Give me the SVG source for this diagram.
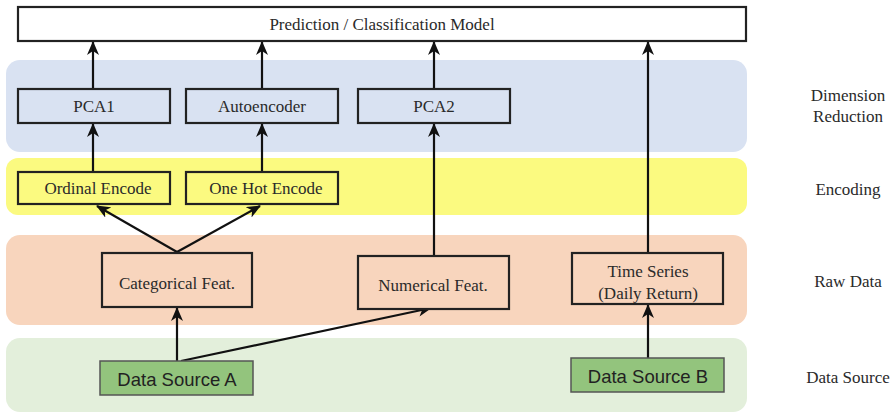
<svg xmlns="http://www.w3.org/2000/svg" width="892" height="413" viewBox="0 0 892 413">
  <style>
    .band { stroke: none; }
    .box { stroke: #222; stroke-width: 2.2; }
    .t { font-family: "Liberation Serif", "Times New Roman", serif; font-size: 17px; fill: #2a2a2a; text-anchor: middle; dominant-baseline: central; }
    .ts { font-family: "Liberation Sans", Arial, sans-serif; font-size: 18.5px; fill: #222; text-anchor: middle; dominant-baseline: central; }
    .lbl { font-family: "Liberation Serif", "Times New Roman", serif; font-size: 17px; fill: #2a2a2a; text-anchor: middle; dominant-baseline: central; }
    .edge { stroke: #111; stroke-width: 2.2; fill: none; marker-end: url(#arrow); }
  </style>
  <defs>
    <marker id="arrow" viewBox="0 0 14 12" refX="13" refY="6" markerWidth="14" markerHeight="12" markerUnits="userSpaceOnUse" orient="auto">
      <path d="M0,0 L14,6 L0,12 L4,6 Z" fill="#111"/>
    </marker>
  </defs>
  <rect width="892" height="413" fill="#ffffff"/>

  <!-- layer bands -->
  <g id="bands">
    <rect class="band" x="6" y="60" width="741" height="92" rx="14" fill="#d9e2f2"/>
    <rect class="band" x="6" y="158" width="741" height="57" rx="12" fill="#fbfa80"/>
    <rect class="band" x="6" y="235" width="741" height="90" rx="14" fill="#f8d5bd"/>
    <rect class="band" x="6" y="338" width="741" height="74" rx="14" fill="#e3efdb"/>
  </g>

  <!-- layer labels -->
  <g id="layer-labels">
    <text class="lbl" x="848" y="95">Dimension</text>
    <text class="lbl" x="848" y="116">Reduction</text>
    <text class="lbl" x="848" y="189">Encoding</text>
    <text class="lbl" x="848" y="281">Raw Data</text>
    <text class="lbl" x="848" y="377">Data Source</text>
  </g>

  <!-- connectors -->
  <g id="connectors">
    <line class="edge" x1="93" y1="89" x2="93" y2="42"/>
    <line class="edge" x1="262" y1="89" x2="262" y2="42"/>
    <line class="edge" x1="434" y1="89" x2="434" y2="42"/>
    <line class="edge" x1="648" y1="253" x2="648" y2="42"/>
    <line class="edge" x1="93" y1="172" x2="93" y2="124"/>
    <line class="edge" x1="262" y1="172" x2="262" y2="124"/>
    <line class="edge" x1="434" y1="256" x2="434" y2="124"/>
    <line class="edge" x1="177" y1="252" x2="97" y2="206"/>
    <line class="edge" x1="177" y1="252" x2="260" y2="206"/>
    <line class="edge" x1="177" y1="361" x2="177" y2="308"/>
    <line class="edge" x1="181" y1="361" x2="431" y2="308"/>
    <line class="edge" x1="648" y1="358" x2="648" y2="305"/>
  </g>

  <g id="model">
    <rect class="box" x="18" y="7" width="728" height="34" fill="#ffffff"/>
    <text class="t" x="382" y="24">Prediction / Classification Model</text>
  </g>

  <g id="pca1">
    <rect class="box" x="18" y="89" width="152" height="34" fill="#d9e2f2"/>
    <text class="t" x="94" y="106">PCA1</text>
  </g>
  <g id="autoencoder">
    <rect class="box" x="186" y="89" width="152" height="34" fill="#d9e2f2"/>
    <text class="t" x="262" y="106">Autoencoder</text>
  </g>
  <g id="pca2">
    <rect class="box" x="358" y="89" width="152" height="34" fill="#d9e2f2"/>
    <text class="t" x="434" y="106">PCA2</text>
  </g>

  <g id="ordinal-encode">
    <rect class="box" x="18" y="172" width="152" height="32" fill="#fbfa80"/>
    <text class="t" x="98" y="188">Ordinal Encode</text>
  </g>
  <g id="one-hot-encode">
    <rect class="box" x="186" y="172" width="152" height="32" fill="#fbfa80"/>
    <text class="t" x="266" y="188">One Hot Encode</text>
  </g>

  <g id="categorical">
    <rect class="box" x="102" y="253" width="150" height="54" fill="#f8d5bd"/>
    <text class="t" x="177" y="283">Categorical Feat.</text>
  </g>
  <g id="numerical">
    <rect class="box" x="358" y="256" width="151" height="53" fill="#f8d5bd"/>
    <text class="t" x="433" y="285">Numerical Feat.</text>
  </g>
  <g id="time-series">
    <rect class="box" x="572" y="253" width="151" height="51" fill="#f8d5bd"/>
    <text class="t" x="648" y="271">Time Series</text>
    <text class="t" x="648" y="293">(Daily Return)</text>
  </g>

  <g id="source-a">
    <rect x="100" y="361" width="153" height="34" fill="#93c47d" stroke="#555" stroke-width="1.5"/>
    <text class="ts" x="177" y="379">Data Source A</text>
  </g>
  <g id="source-b">
    <rect x="571" y="358" width="153" height="34" fill="#93c47d" stroke="#555" stroke-width="1.5"/>
    <text class="ts" x="648" y="376">Data Source B</text>
  </g>
</svg>
